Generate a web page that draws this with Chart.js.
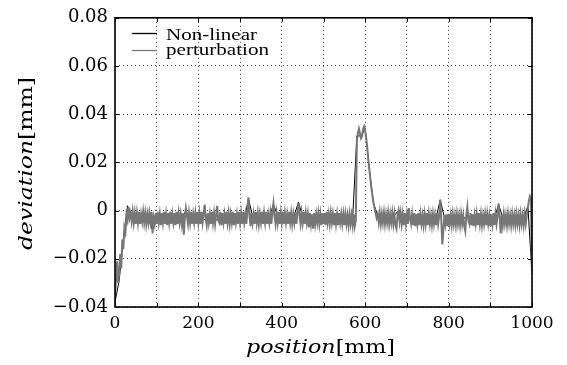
<!DOCTYPE html>
<html><head><meta charset="utf-8">
<script src="https://cdn.jsdelivr.net/npm/chart.js@4.4.1/dist/chart.umd.min.js"></script>
<style>html,body{margin:0;padding:0;background:#fff;overflow:hidden}canvas{display:block}</style>
</head><body>
<canvas id="c" width="567" height="365"></canvas>
<script>
// ---- data (values in mm) ----
const seriesNames = ['Non-linear', 'perturbation'];

// Non-linear: one value every 10 mm of position, 0..1000
const nonLinearStep = 10;
const nonLinear = [
  -0.038, -0.029, -0.012, 0.002, -0.003, -0.003, -0.004, -0.003, -0.0035, -0.008,
  -0.004, -0.003, -0.0045, -0.0035, -0.003, -0.0045, -0.0035, 0.000, -0.004, -0.0035,
  -0.004, -0.003, -0.0045, -0.0035, -0.004, -0.0035, -0.005, -0.003, -0.004, -0.0035,
  -0.003, -0.004, 0.005, -0.0025, -0.002, -0.0025, -0.002, -0.0025, 0.0025, -0.002,
  -0.0025, -0.002, -0.0025, -0.002, 0.0035, -0.0025, -0.002, -0.0035, -0.003, -0.002,
  -0.0025, -0.002, -0.0025, -0.003, -0.0025, -0.003, -0.0035, -0.003, 0.031, 0.031,
  0.034, 0.017, 0.003, -0.002, -0.002, -0.0025, -0.0015, -0.002, 0.000, -0.0025,
  -0.002, -0.003, -0.0035, -0.003, -0.0035, -0.003, -0.0035, -0.003, 0.0045, -0.003,
  -0.003, -0.0025, -0.003, -0.0035, -0.003, -0.003, -0.0035, -0.003, -0.0035, -0.003,
  -0.0035, -0.003, 0.0025, -0.003, -0.0035, -0.003, -0.0035, -0.003, -0.0035, 0.002,
  -0.026
];

// perturbation: one value every 2.5 mm of position, 0..1000 (20 values per 50 mm row)
const perturbationStep = 2.5;
const perturbation = [
  -0.036, -0.028, -0.021, -0.030, -0.026, -0.018, -0.024, -0.012, -0.016, -0.007, -0.009, -0.002, -0.004, 0.0015, -0.003, -0.001, -0.0045, -0.0005, -0.005, -0.001,
  -0.0055, -0.001, -0.005, -0.0005, -0.0055, -0.0015, -0.0045, -0.0005, -0.005, -0.001, -0.0055, -0.0015, -0.005, -0.001, -0.0045, -0.0005, -0.0095, -0.003, -0.0055, -0.001,
  -0.0055, -0.0005, -0.005, -0.0015, -0.006, -0.001, -0.005, -0.0005, -0.0055, -0.0015, -0.006, -0.001, -0.005, -0.0005, -0.0055, -0.0015, -0.005, -0.001, -0.006, -0.0005,
  -0.0055, -0.001, -0.005, -0.0015, -0.0055, -0.001, -0.010, -0.003, 0.001, -0.002, -0.0055, -0.001, -0.005, -0.0005, -0.0055, -0.0015, -0.005, -0.001, -0.0055, -0.0005,
  -0.005, -0.001, -0.0055, -0.0005, -0.005, -0.0015, 0.0025, -0.003, -0.006, -0.001, -0.005, -0.0015, -0.0055, -0.0005, -0.005, -0.001, -0.0055, -0.0015, 0.002, -0.004,
  -0.005, -0.0005, -0.006, -0.001, -0.005, -0.0015, -0.0055, -0.0005, -0.005, -0.001, -0.0055, -0.0015, -0.005, -0.0005, -0.006, -0.001, -0.005, -0.0015, -0.0055, -0.0005,
  -0.005, -0.001, -0.0055, -0.0005, -0.005, -0.0015, -0.0055, 0.000, 0.0055, -0.002, -0.0065, -0.001, -0.005, -0.0015, -0.0055, -0.0005, -0.005, -0.001, -0.0055, -0.0015,
  -0.005, -0.0005, -0.0055, -0.001, -0.005, -0.0005, -0.0055, -0.0015, -0.005, -0.001, -0.0055, -0.0005, 0.003, -0.002, -0.0055, -0.001, -0.005, -0.0005, -0.0055, -0.001,
  -0.005, -0.0005, -0.0055, -0.001, -0.005, -0.0015, -0.0055, -0.0005, -0.005, -0.001, -0.0055, -0.0015, -0.005, -0.0005, -0.0055, -0.001, 0.003, -0.002, -0.0055, -0.001,
  -0.005, -0.0005, -0.0055, -0.001, -0.005, -0.0015, -0.007, -0.001, -0.0055, -0.0015, -0.0075, -0.001, -0.0055, -0.0015, -0.005, -0.001, -0.0055, -0.0015, -0.006, -0.001,
  -0.0055, -0.001, -0.006, -0.0005, -0.005, -0.0015, -0.0055, -0.001, -0.005, -0.0015, -0.006, -0.001, -0.0055, -0.0015, -0.006, -0.001, -0.005, -0.0015, -0.0055, -0.0015,
  -0.006, -0.0015, -0.0055, -0.002, -0.006, -0.0015, -0.0055, -0.002, -0.006, -0.0015, -0.0065, -0.004, 0.029, 0.032, 0.034, 0.032, 0.030, 0.031, 0.034, 0.035,
  0.033, 0.030, 0.026, 0.021, 0.017, 0.013, 0.009, 0.006, 0.003, 0.001, -0.001, -0.003, -0.0015, -0.005, -0.001, -0.0055, -0.0015, -0.005, -0.001, -0.0055,
  -0.0015, -0.005, -0.001, -0.0055, -0.0015, -0.005, -0.001, -0.0055, -0.0015, -0.006, -0.0075, -0.002, 0.000, -0.0045, -0.001, -0.0055, -0.0015, -0.006, -0.001, -0.0055,
  -0.0015, -0.0055, 0.001, -0.003, -0.0055, -0.0015, -0.006, -0.001, -0.0065, -0.0015, -0.0055, -0.001, -0.006, -0.0015, -0.0055, -0.002, -0.006, -0.0015, -0.0055, -0.001,
  -0.006, -0.0015, -0.0055, -0.002, -0.006, -0.0015, -0.0055, -0.002, -0.006, -0.001, -0.0055, -0.002, 0.0045, -0.004, -0.014, -0.008, -0.002, -0.0055, -0.0015, -0.0065,
  -0.0015, -0.0055, -0.002, -0.006, -0.0015, -0.0055, -0.002, -0.006, -0.0015, -0.0055, -0.002, -0.006, -0.0015, -0.0055, -0.002, -0.0065, -0.0085, -0.002, 0.0015, -0.004,
  -0.0055, -0.001, -0.006, -0.0015, -0.0065, -0.002, -0.0055, -0.0015, -0.006, -0.001, -0.0055, -0.0015, -0.006, -0.002, -0.0055, -0.0015, -0.006, -0.0015, -0.0055, -0.002,
  -0.0065, -0.0015, -0.0055, -0.001, -0.006, -0.0015, -0.0055, -0.002, 0.003, -0.003, -0.0095, -0.002, -0.006, -0.0015, -0.0055, -0.002, -0.006, -0.0015, -0.0055, -0.002,
  -0.006, -0.0015, -0.0055, -0.002, -0.006, -0.0015, -0.0055, -0.002, -0.006, -0.0015, -0.0055, -0.002, -0.006, -0.0015, -0.0055, -0.002, 0.001, 0.004, 0.006, 0.005,
  -0.026
];

const xTickLabels = ['0', '200', '400', '600', '800', '1000'];
const yTickLabels = ['\u22120.04', '\u22120.02', '0', '0.02', '0.04', '0.06', '0.08'];
const xTitle = ['position', '[mm]'];
const yTitle = ['deviation', '[mm]'];

// ---- build points for the library ----
const toPoints = (vals, step) => vals.map((v, i) => ({ x: i * step, y: v }));

const SERIF = '"DejaVu Serif", "Liberation Serif", serif';
const TIMES = '"Liberation Serif", "DejaVu Serif", serif';

function drawMixed(ctx, parts, fonts, targetW) {
  const widths = parts.map((p, i) => { ctx.font = fonts[i]; return ctx.measureText(p).width; });
  const total = widths.reduce((a, b) => a + b, 0);
  ctx.scale(targetW / total, 1);
  let xx = 0;
  parts.forEach((p, i) => { ctx.font = fonts[i]; ctx.fillText(p, xx, 0); xx += widths[i]; });
}

const decorPlugin = {
  id: 'decor',
  afterDraw(chart) {
    const { ctx, chartArea: a, scales: { x, y } } = chart;
    ctx.save();
    ctx.strokeStyle = '#000';
    ctx.lineWidth = 1;
    const seg = (x1, y1, x2, y2) => { ctx.beginPath(); ctx.moveTo(x1, y1); ctx.lineTo(x2, y2); ctx.stroke(); };
    x.ticks.forEach(t => { const p = Math.round(x.getPixelForValue(t.value)) + 0.5; seg(p, a.bottom, p, a.bottom - 4); seg(p, a.top, p, a.top + 4); });
    y.ticks.forEach(t => { const p = Math.round(y.getPixelForValue(t.value)) + 0.5; seg(a.left, p, a.left + 4, p); seg(a.right, p, a.right - 4, p); });
    ctx.lineWidth = 1.6;
    ctx.strokeRect(a.left, a.top, a.right - a.left, a.bottom - a.top);

    // legend (entries in series order)
    const ds = seriesNames.map(n => chart.data.datasets.find(d => d.label === n));
    const legY = [33.5, 50.5];
    const legBase = [39.5, 55];
    const legW = [91, 103];
    ds.forEach((d, i) => {
      ctx.strokeStyle = d.borderColor;
      ctx.lineWidth = 1.3;
      seg(132, legY[i], 157, legY[i]);
      ctx.save();
      ctx.fillStyle = '#000';
      ctx.textBaseline = 'alphabetic';
      ctx.textAlign = 'left';
      ctx.translate(166, legBase[i]);
      drawMixed(ctx, [d.label], ['17px ' + TIMES], legW[i]);
      ctx.restore();
    });

    // axis titles
    ctx.fillStyle = '#000';
    ctx.textBaseline = 'alphabetic';
    ctx.textAlign = 'left';
    ctx.save();
    ctx.translate(246, 353);
    drawMixed(ctx, xTitle, ['italic 19px ' + SERIF, '19px ' + SERIF], 149);
    ctx.restore();

    ctx.save();
    ctx.translate(31.5, 163.5);
    ctx.rotate(-Math.PI / 2);
    ctx.translate(-86.5, 0);
    drawMixed(ctx, yTitle, ['italic 19px ' + SERIF, '19px ' + SERIF], 173);
    ctx.restore();

    ctx.restore();
  }
};

new Chart(document.getElementById('c'), {
  type: 'line',
  data: {
    // perturbation first so that it is painted on top of the black line
    datasets: [
      { label: seriesNames[1], data: toPoints(perturbation, perturbationStep), borderColor: '#777777', borderWidth: 2, pointRadius: 0, tension: 0 },
      { label: seriesNames[0], data: toPoints(nonLinear, nonLinearStep), borderColor: '#000000', borderWidth: 1, pointRadius: 0, tension: 0 }
    ]
  },
  options: {
    responsive: false,
    animation: false,
    devicePixelRatio: 1,
    layout: { padding: { left: 0, right: 35, top: 14, bottom: 0 } },
    plugins: { legend: { display: false }, tooltip: { enabled: false } },
    scales: {
      x: {
        type: 'linear', min: 0, max: 1000,
        afterFit: s => { s.height = 58; },
        ticks: {
          stepSize: 100, autoSkip: false, maxRotation: 0, padding: 6,
          color: '#000', font: { family: SERIF, size: 17 },
          callback: v => xTickLabels.includes(String(v)) ? String(v) : ''
        },
        grid: { color: 'rgba(0,0,0,0.75)', lineWidth: 1, drawTicks: false },
        border: { display: false, dash: [1, 3] }
      },
      y: {
        type: 'linear', min: -0.04, max: 0.08,
        afterFit: s => { s.width = 115; },
        ticks: {
          stepSize: 0.02, padding: 7,
          color: '#000', font: { family: SERIF, size: 18 },
          callback: v => yTickLabels[Math.round((v + 0.04) / 0.02)]
        },
        grid: { color: 'rgba(0,0,0,0.75)', lineWidth: 1, drawTicks: false },
        border: { display: false, dash: [1, 3] }
      }
    }
  },
  plugins: [decorPlugin]
});
</script>
</body></html>
